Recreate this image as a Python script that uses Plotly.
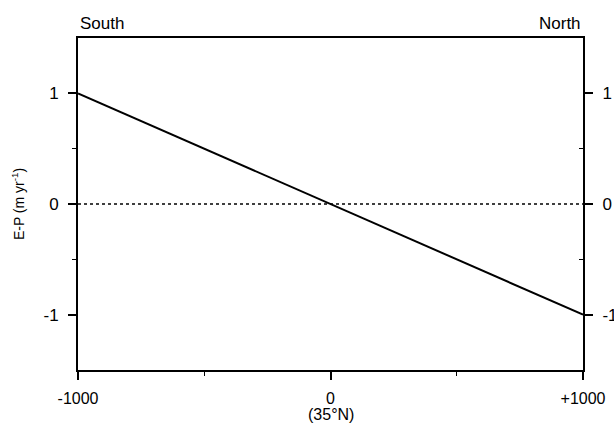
import plotly.graph_objects as go

# Data
distance_km = [-1000, -500, 0, 500, 1000]
e_minus_p = [1.0, 0.5, 0.0, -0.5, -1.0]
x_tickvals = [-1000, 0, 1000]
x_ticktext = ["-1000", "0", "+1000"]
y_tickvals = [-1, 0, 1]
y_ticktext = ["-1", "0", "1"]

FONT = "Liberation Sans, Arial, sans-serif"

fig = go.Figure()
fig.add_trace(go.Scatter(x=[-1000, 1000], y=[0, 0], mode="lines",
                         line=dict(color="black", width=1.5, dash="dot"),
                         showlegend=False, hoverinfo="skip"))
fig.add_trace(go.Scatter(x=distance_km, y=e_minus_p, mode="lines",
                         line=dict(color="black", width=2),
                         showlegend=False))
fig.add_trace(go.Scatter(x=distance_km, y=e_minus_p, mode="lines", yaxis="y2",
                         line=dict(color="rgba(0,0,0,0)", width=0),
                         showlegend=False, hoverinfo="skip"))

fig.update_layout(
    width=614, height=427,
    margin=dict(l=78, r=31, t=38, b=57),
    paper_bgcolor="white", plot_bgcolor="white",
    font=dict(family=FONT, color="black", size=16),
    xaxis=dict(range=[-1000, 1000], tickvals=x_tickvals, ticktext=x_ticktext,
               ticks="outside", ticklen=8, tickwidth=1.5, tickcolor="black",
               showline=True, linecolor="black", linewidth=2, mirror=True,
               showgrid=False, zeroline=False, automargin=False,
               ticklabelstandoff=5,
               minor=dict(tickvals=[-500, 500], ticks="outside", ticklen=4,
                          tickcolor="black", tickwidth=1.2, showgrid=False),
               tickfont=dict(size=16)),
    yaxis=dict(range=[-1.5, 1.5], tickvals=y_tickvals, ticktext=y_ticktext,
               ticks="outside", ticklen=8, tickwidth=1.5, tickcolor="black",
               showline=True, linecolor="black", linewidth=2,
               showgrid=False, zeroline=False, automargin=False,
               ticklabelstandoff=6,
               minor=dict(tickvals=[-0.5, 0.5], ticks="outside", ticklen=4,
                          tickcolor="black", tickwidth=1.2, showgrid=False),
               tickfont=dict(size=17),
               title=dict(text="E-P (m yr<sup>-1</sup>)", font=dict(size=14), standoff=16)),
    yaxis2=dict(range=[-1.5, 1.5], overlaying="y", side="right",
                tickvals=y_tickvals, ticktext=y_ticktext,
                ticks="outside", ticklen=8, tickwidth=1.5, tickcolor="black",
                showline=True, linecolor="black", linewidth=2,
                showgrid=False, zeroline=False, automargin=False,
                ticklabelstandoff=6,
                minor=dict(tickvals=[-0.5, 0.5], ticks="inside", ticklen=4,
                           tickcolor="black", tickwidth=1.2, showgrid=False),
                tickfont=dict(size=17)),
    annotations=[
        dict(text="South", xref="paper", yref="paper", x=0, y=1,
             xanchor="left", yanchor="bottom", yshift=3, showarrow=False,
             font=dict(size=17)),
        dict(text="North", xref="paper", yref="paper", x=1, y=1,
             xanchor="right", yanchor="bottom", yshift=3, showarrow=False,
             font=dict(size=17)),
        dict(text="(35°N)", xref="x", yref="paper", x=0, y=0,
             xanchor="center", yanchor="top", yshift=-34, showarrow=False,
             font=dict(size=16)),
    ],
)

fig.write_html("out.html")
